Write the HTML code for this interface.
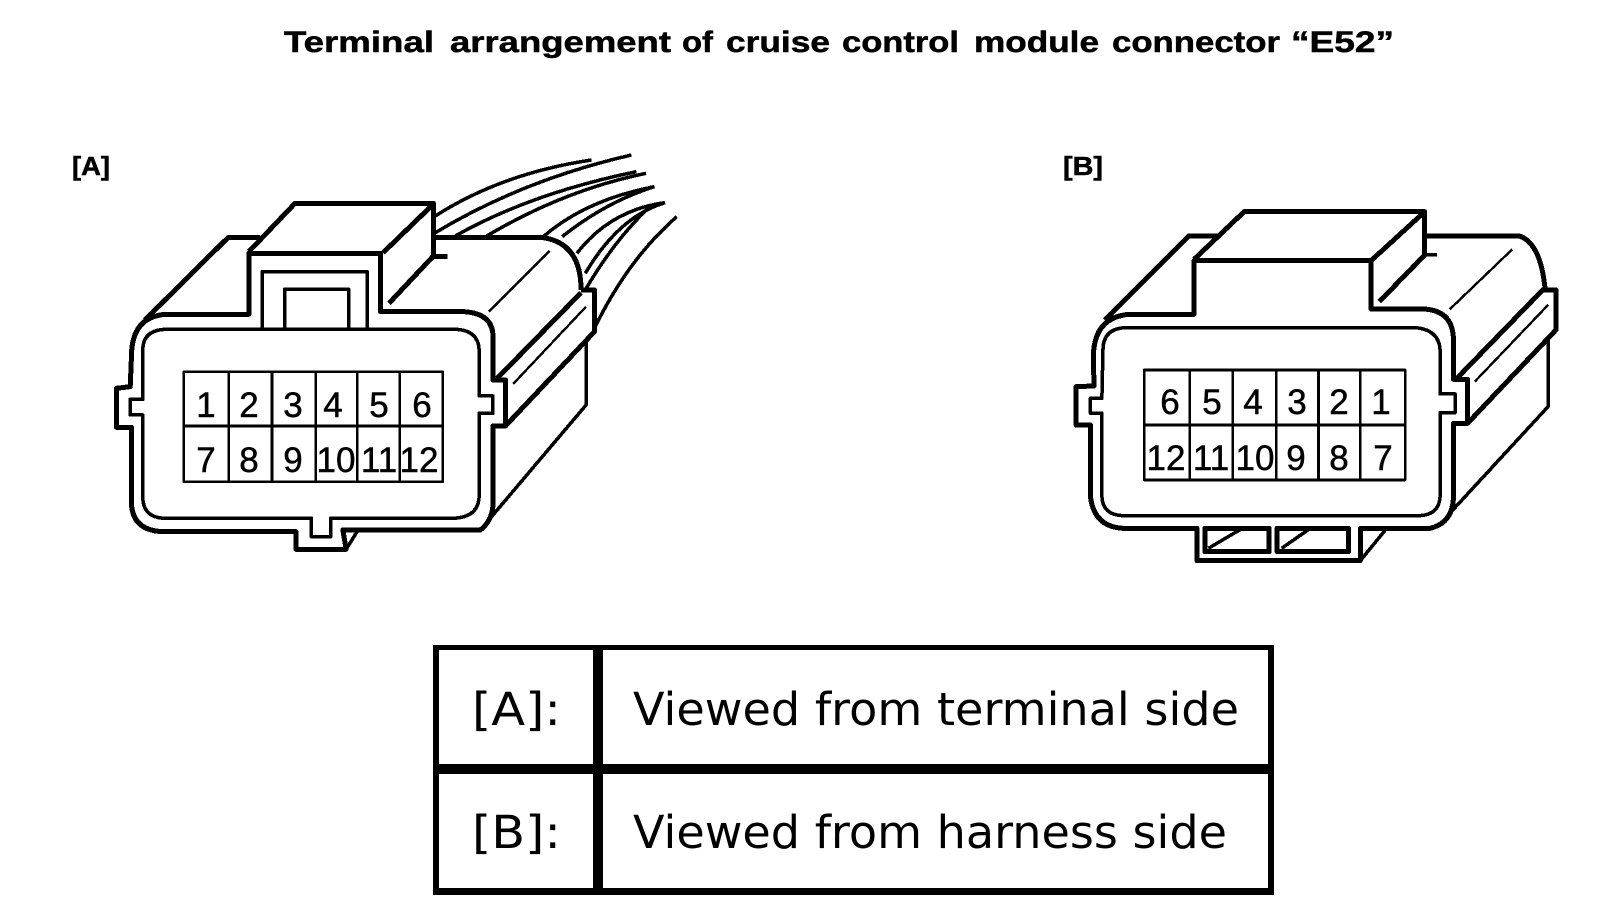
<!DOCTYPE html>
<html><head><meta charset="utf-8"><style>
html,body{margin:0;padding:0;background:#fff;width:1600px;height:912px;overflow:hidden}
svg{display:block}
.l path{fill:none;stroke:#000;stroke-width:3.5;vector-effect:non-scaling-stroke;stroke-linejoin:round;shape-rendering:crispEdges}
.l path.o{stroke-width:5}
.l path.t{stroke-width:2.4}
.l path.g{stroke-width:2.6}
.d{font-family:"Liberation Sans",sans-serif;font-size:35px;fill:#000;text-anchor:middle;stroke:#000;stroke-width:.5}
.b{font-family:"Liberation Sans",sans-serif;font-weight:bold;fill:#000;stroke:#000;stroke-width:.5}
.v{font-family:"DejaVu Sans",sans-serif;font-size:45px;fill:#000}
</style></head><body>
<svg width="1600" height="912" viewBox="0 0 1600 912" xmlns="http://www.w3.org/2000/svg">
<rect width="1600" height="912" fill="#fff"/>
<g class="b" font-size="30">
<text x="284" y="52" textLength="150" lengthAdjust="spacingAndGlyphs">Terminal</text>
<text x="450" y="52" textLength="221" lengthAdjust="spacingAndGlyphs">arrangement</text>
<text x="682" y="52" textLength="31" lengthAdjust="spacingAndGlyphs">of</text>
<text x="726" y="52" textLength="104" lengthAdjust="spacingAndGlyphs">cruise</text>
<text x="842" y="52" textLength="117" lengthAdjust="spacingAndGlyphs">control</text>
<text x="974" y="52" textLength="125" lengthAdjust="spacingAndGlyphs">module</text>
<text x="1112" y="52" textLength="168" lengthAdjust="spacingAndGlyphs">connector</text>
<text x="1291" y="52" textLength="103" lengthAdjust="spacingAndGlyphs">“E52”</text>
</g>
<text class="b" x="72" y="175" font-size="26" textLength="38" lengthAdjust="spacingAndGlyphs">[A]</text>
<text class="b" x="1063" y="175" font-size="26" textLength="40" lengthAdjust="spacingAndGlyphs">[B]</text>

<g class="l" transform="translate(61,130) scale(0.4194,0.3333)">
<path d="M890,260Q1050,130 1265,90M890,310Q1100,150 1360,75M940,318Q1120,190 1372,125M1015,318Q1200,180 1395,130M1150,320Q1250,210 1415,170M1195,320Q1300,215 1415,170M1230,370Q1310,240 1440,218M1250,430Q1330,260 1440,218M1270,600Q1350,390 1468,260M1250,480Q1320,330 1400,235"/>
<path class="o" d="M165,770L132,775L132,892L168,892L168,1120Q170,1200 240,1205L560,1205L560,1258L680,1258L672,1200L1000,1200Q1030,1170 1030,1120L1030,888L1060,888L1060,750L1030,750L1030,620Q1030,550 960,545L762,545L762,370L448,370L448,553L250,553Q168,560 168,680Z"/>
<path d="M195,660Q195,600 250,598L940,598Q995,600 997,660L997,798L1030,798L1030,850L997,850L997,1100Q995,1165 930,1165L643,1165L643,1220L597,1220L597,1165L250,1165Q195,1165 195,1100L195,855L165,855L165,808L195,808Z"/>
<path class="o" d="M448,365L558,220L888,220L888,378L782,520M768,368L888,222M888,380L922,380"/>
<path d="M480,598L480,425L730,425L730,598"/>
<path d="M533,598L533,478L686,478L686,598"/>
<path class="o" d="M200,570L398,323L475,323M888,323L1150,323Q1240,340 1240,480M1240,488L1040,745M1240,480L1272,480L1272,605L1062,885"/>
<path class="t" d="M1078,762L1252,530M1020,545L1165,363"/>
<path d="M1252,630L1252,825L1020,1170M680,1258L706,1205"/>
<path class="g" d="M293,725H910V1055H293ZM293,888H910M400,725V1055M503,725V1055M607,725V1055M706,725V1055M808,725V1055"/>
</g>

<g class="l" transform="translate(1040.4,130) scale(0.3575,0.3333)">
<path class="o" d="M150,768L100,770L100,885L140,885L140,1100Q150,1190 230,1195L438,1195L438,1292L895,1292L895,1195L1090,1195Q1150,1180 1155,1110L1155,880L1195,880L1195,748L1155,748L1155,620Q1150,540 1070,537L925,537L925,392L430,392L430,553L250,553Q150,560 148,680Z"/>
<path d="M175,660Q175,595 240,593L1050,593Q1115,600 1118,660L1118,792L1160,792L1160,848L1118,848L1118,1100Q1115,1155 1060,1157L230,1157Q175,1155 172,1100L172,850L140,850L140,805L172,805Z"/>
<path class="o" d="M460,1195H640V1265H460ZM662,1195H862V1265H662Z"/>
<path d="M470,1255L565,1195M675,1255L755,1195"/>
<path class="o" d="M430,388L570,245L1075,245L1075,375L948,515M925,392L1070,250M1075,318L1340,318Q1400,340 1412,480M180,570L415,318L500,318"/>
<path d="M1075,375L1110,375"/>
<path class="o" d="M1165,745L1405,480L1442,480L1442,600L1195,880"/>
<path class="t" d="M1215,755L1420,525M1145,538L1320,358"/>
<path d="M1420,630L1420,830L1145,1150M895,1292L965,1200"/>
<path class="g" d="M290,720H1020V1050H290ZM290,885H1020M418,720V1050M538,720V1050M660,720V1050M778,720V1050M895,720V1050"/>
</g>

<g class="d">
<text x="206" y="417">1</text><text x="249" y="417">2</text><text x="293" y="417">3</text><text x="333" y="417">4</text><text x="379" y="417">5</text><text x="422" y="417">6</text>
<text x="206" y="472">7</text><text x="249" y="472">8</text><text x="293" y="472">9</text><text x="336" y="472">10</text><text x="379" y="472">11</text><text x="419" y="472">12</text>
<text x="1170" y="414">6</text><text x="1212" y="414">5</text><text x="1253" y="414">4</text><text x="1297" y="414">3</text><text x="1339" y="414">2</text><text x="1381" y="414">1</text>
<text x="1166" y="470">12</text><text x="1211" y="470">11</text><text x="1255" y="470">10</text><text x="1296" y="470">9</text><text x="1339" y="470">8</text><text x="1383" y="470">7</text>
</g>

<g fill="#000">
<rect x="433" y="645" width="841" height="5"/>
<rect x="433" y="764" width="841" height="10"/>
<rect x="433" y="888" width="841" height="7"/>
<rect x="433" y="645" width="6" height="250"/>
<rect x="1268" y="645" width="6" height="250"/>
<rect x="593" y="645" width="10" height="250"/>
</g>
<text class="v" x="472" y="725" textLength="89" lengthAdjust="spacingAndGlyphs">[A]:</text>
<text class="v" x="472" y="848" textLength="89" lengthAdjust="spacingAndGlyphs">[B]:</text>
<text class="v" x="633" y="725" textLength="606" lengthAdjust="spacingAndGlyphs">Viewed from terminal side</text>
<text class="v" x="633" y="848" textLength="594" lengthAdjust="spacingAndGlyphs">Viewed from harness side</text>
</svg>
</body></html>
